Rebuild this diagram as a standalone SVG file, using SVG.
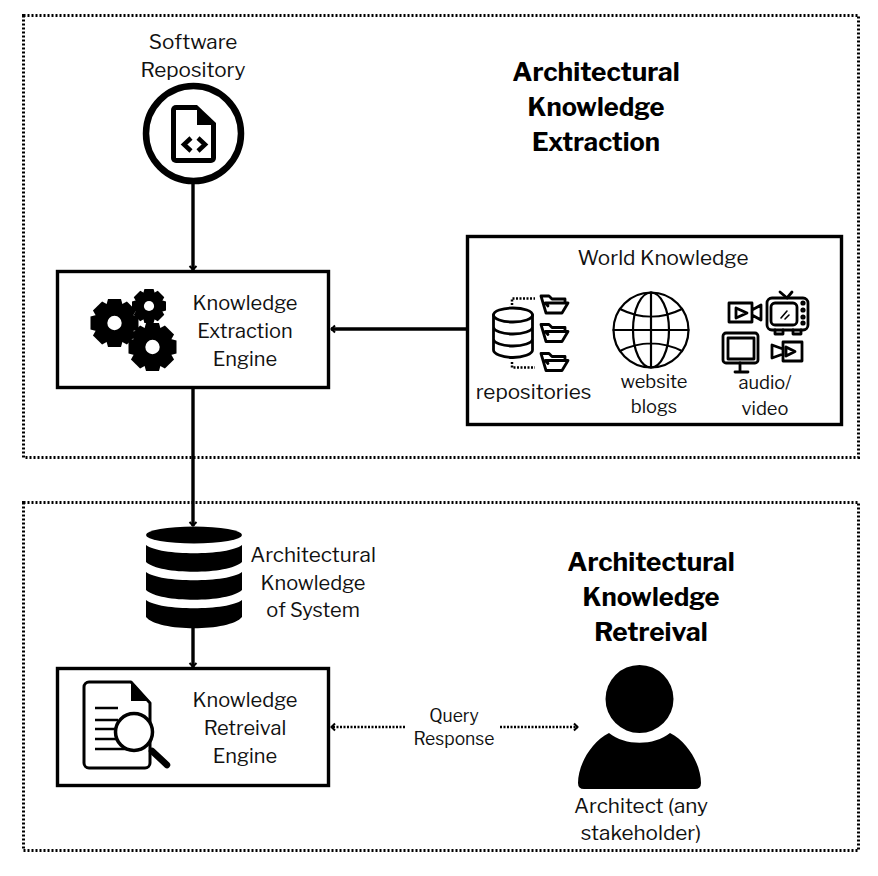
<svg xmlns="http://www.w3.org/2000/svg" width="878" height="876" viewBox="0 0 878 876">
<style>
text{font-family:"Libre Franklin","Inter","Liberation Sans",sans-serif;font-size:20.700px;fill:#111;text-anchor:middle}
.k{font-size:20px}
.h{font-size:26.200px;font-weight:700;fill:#000}
.hk{font-size:25.500px}
.s{font-size:18.300px}
.q{font-size:17.500px}
.box{fill:#fff;stroke:#000;stroke-width:3.400}
.zone{fill:#fff;stroke:#000;stroke-width:3;stroke-dasharray:2 2}
.ln{fill:none;stroke:#000;stroke-width:3.400}
.dot{fill:none;stroke:#000;stroke-width:2.500;stroke-dasharray:2 1.500}
.ic{fill:none;stroke:#000;stroke-width:2.800;stroke-linejoin:round;stroke-linecap:round}
.gl{stroke-width:2.200}
</style>
<defs>
<marker id="a" markerWidth="7" markerHeight="10" refX="5.500" refY="5" orient="auto" markerUnits="userSpaceOnUse"><path d="M1.500 1.500L5 5L1.500 8.500" fill="none" stroke="#000" stroke-width="2"/></marker>
<g id="folder"><path class="ic" d="M2 2H10L13 5H26V9M2 2L7 19H23L29 9H6.500L9 12"/></g>
<g id="gear8"><circle r="0.76" fill="#000"/><g fill="#000"><path id="t" d="M-.27-1H.27L.38-.6H-.38Z"/><use href="#t" transform="rotate(45)"/><use href="#t" transform="rotate(90)"/><use href="#t" transform="rotate(135)"/><use href="#t" transform="rotate(180)"/><use href="#t" transform="rotate(225)"/><use href="#t" transform="rotate(270)"/><use href="#t" transform="rotate(315)"/></g><circle r="0.3" fill="#fff"/></g>
</defs>
<rect width="878" height="876" fill="#fff"/>
<rect class="zone" x="23.500" y="15.500" width="835" height="442"/>
<rect class="zone" x="23.500" y="502.500" width="835" height="348"/>
<g id="connectors">
<path class="ln" d="M193 184V270" marker-end="url(#a)"/>
<path class="ln" d="M467 329H331" marker-end="url(#a)"/>
<path class="ln" d="M193 388V526" marker-end="url(#a)"/>
<path class="ln" d="M193 628V667" marker-end="url(#a)"/>
<path class="dot" d="M405 727H331" marker-end="url(#a)"/>
<path class="dot" d="M500 727H578" marker-end="url(#a)"/>
</g>
<g id="title-extraction"><text class="h" x="596" y="81">Architectural</text><text class="h hk" x="596" y="116">Knowledge</text><text class="h hk" x="596" y="151">Extraction</text></g>
<g id="title-retrieval"><text class="h" x="651" y="571">Architectural</text><text class="h hk" x="651" y="606">Knowledge</text><text class="h" x="651" y="641">Retreival</text></g>
<g id="software-repository">
<text x="193" y="49">Software</text><text x="193" y="77">Repository</text>
<circle cx="193.500" cy="133.500" r="47.500" fill="#fff" stroke="#000" stroke-width="6.500"/>
<path d="M176 105H197L216 123V158a5 5 0 0 1-5 5H176a5 5 0 0 1-5-5V110a5 5 0 0 1 5-5Z" fill="#000"/>
<path d="M176 110H197V125H211V158H176Z" fill="#fff"/>
<path d="M191 138L184 144.500L191 151M198 138L205 144.500L198 151" fill="none" stroke="#000" stroke-width="4.500"/>
</g>
<g id="extraction-engine">
<rect class="box" x="57.500" y="271.500" width="271" height="116"/>
<use href="#gear8" transform="translate(114.500 323) scale(24)"/>
<use href="#gear8" transform="translate(149 306) scale(17)"/>
<use href="#gear8" transform="translate(152.500 347) scale(24)"/>
<text class="k" x="245" y="310">Knowledge</text><text class="k" x="245" y="338">Extraction</text><text class="k" x="245" y="366">Engine</text>
</g>
<g id="world-knowledge">
<rect class="box" x="467.500" y="236.500" width="374" height="188"/>
<text x="663" y="265">World Knowledge</text>
<g class="ic"><ellipse cx="513" cy="315" rx="19.500" ry="7"/><path d="M493.500 315V350C493.500 354 503 357.500 513 357.500S532.500 354 532.500 350V315M493.500 327C493.500 331 503 334 513 334S532.500 331 532.500 327M493.500 339C493.500 343 503 346 513 346S532.500 343 532.500 339"/></g>
<path class="dot" d="M512 305V298.500H535M512 362V367.500H535"/>
<use href="#folder" transform="translate(539 294)"/><use href="#folder" transform="translate(539 322.500)"/><use href="#folder" transform="translate(539 351.500)"/>
<text x="533.500" y="399">repositories</text>
<g class="ic gl"><circle cx="651" cy="330" r="37.500"/><ellipse cx="651" cy="330" rx="18" ry="37.500"/><path d="M651 292.500V367.500M613.500 330H688.500M620 309C640 319 662 319 682 309M620 351C640 341 662 341 682 351"/></g>
<text x="654" y="388" class="s">website</text><text x="654" y="413" class="s">blogs</text>
<g class="ic">
<path d="M729 303H752V322H729ZM736 308L747 313L736 318ZM752 310L761 305V320L752 315"/>
<rect x="767" y="298" width="41" height="32" rx="5"/><rect x="771" y="303" width="26" height="22" rx="4"/>
<path d="M780 292L787 298L792 292M775 330V334H783V330M793 330V334H801V330"/>
<path d="M781 318L787 311M785 319L789 315" style="stroke-width:1.600"/>
<circle cx="803" cy="303" r="1.200"/><circle cx="803" cy="310" r="1.200"/><circle cx="803" cy="317" r="1.200"/><circle cx="803" cy="323" r="1.200"/>
<rect x="723" y="333" width="35" height="30" rx="3"/><rect x="728" y="338" width="26" height="21"/><path d="M740 363V371M735 372H748"/>
<path d="M783 342H802V361H783ZM786 347L795 351.500L786 356ZM783 349L772 345V358L783 354"/>
</g>
<text x="765" y="389" class="s">audio/</text><text x="765" y="415" class="s">video</text>
</g>
<g id="architectural-knowledge">
<g fill="#000"><ellipse cx="194" cy="535" rx="48" ry="8.500"/>
<path d="M146 545C160 556 228 556 242 545V562C228 575 160 575 146 562Z"/>
<path d="M146 572C160 583 228 583 242 572V590C228 603 160 603 146 590Z"/>
<path d="M146 600C160 611 228 611 242 600V617C230 632 158 632 146 617Z"/></g>
<text x="313" y="562">Architectural</text><text class="k" x="313" y="590">Knowledge</text><text class="k" x="313" y="617">of System</text>
</g>
<g id="retrieval-engine">
<rect class="box" x="57.500" y="668.500" width="271" height="117"/>
<path class="ic" style="stroke-width:3" d="M89 682H131L150 703V763a5 5 0 0 1-5 5H89a5 5 0 0 1-5-5V687a5 5 0 0 1 5-5Z"/>
<path d="M131 682L150 703V701H131Z" fill="#000"/>
<path class="ln" d="M95 708H118M95 720H118M95 729H118M95 739H118M95 749H130" style="stroke-width:2.500"/>
<circle cx="134" cy="732" r="18.500" fill="#fff" stroke="#000" stroke-width="3.500"/>
<path d="M152 751L167 765" stroke="#000" stroke-width="6.500" stroke-linecap="round"/>
<text class="k" x="245" y="707">Knowledge</text><text class="k" x="245" y="735">Retreival</text><text class="k" x="245" y="763">Engine</text>
</g>
<g id="query-response"><text x="454" y="722" class="q">Query</text><text x="454" y="745" class="q">Response</text></g>
<g id="architect">
<circle cx="639.500" cy="699" r="34" fill="#000"/>
<path d="M609 733C625 746 654 746 670 733C688 742 701 765 701 783Q701 789 695 789H584Q578 789 578 783C578 765 591 742 609 733Z" fill="#000"/>
<text x="641" y="813">Architect (any</text><text x="641" y="840">stakeholder)</text>
</g>
</svg>
